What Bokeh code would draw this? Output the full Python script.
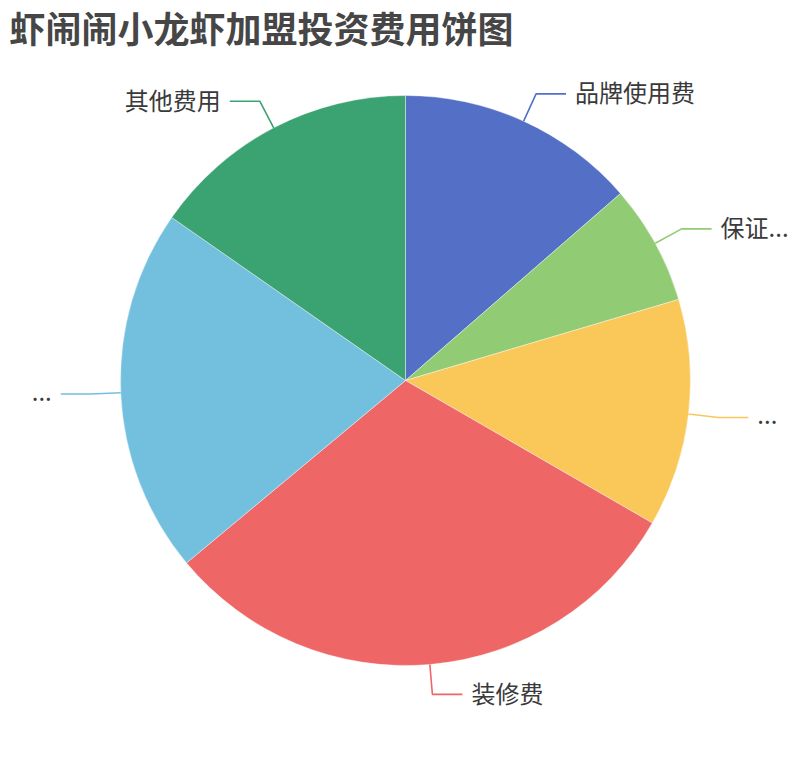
import math
from bokeh.plotting import figure
from bokeh.models import ColumnDataSource, Range1d, Label
from bokeh.core.properties import value
from bokeh.embed import file_html
from bokeh.resources import INLINE

# slices, clockwise from 12 o'clock (labels as shown, truncated ones included)
names = ["品牌使用费", "保证...", "...", "装修费", "...", "其他费用"]
amounts = [4.0, 2.0, 3.8, 9.0, 6.1, 4.5]
colors = ["#5470c6", "#91cc75", "#fac858", "#ee6666", "#73c0de", "#3ba272"]

title_text = "虾闹闹小龙虾加盟投资费用饼图"
font = "Noto Sans CJK SC"

R = 285      # pie radius in px
leg1 = 30    # radial part of the leader line
leg2 = 30    # horizontal part
gap = 9

total = sum(amounts)
starts, ends, mids = [], [], []
acc = 0.0
for a in amounts:
    s = acc / total * 2 * math.pi
    acc += a
    e = acc / total * 2 * math.pi
    # clockwise from top -> bokeh's anticlockwise angles
    starts.append(math.pi / 2 - e)
    ends.append(math.pi / 2 - s)
    mids.append(math.pi / 2 - (s + e) / 2)

src = ColumnDataSource(dict(name=names, amount=amounts, color=colors,
                            start=starts, end=ends))

# 1 data unit = 1 px, pie centre at the origin
p = figure(width=794, height=744, output_backend="svg", toolbar_location=None,
           x_range=Range1d(-405, 389), y_range=Range1d(-364, 380),
           min_border=0)
p.axis.visible = False
p.grid.visible = False
p.outline_line_color = None
p.background_fill_color = "white"
p.border_fill_color = "white"

p.wedge(x=0, y=0, radius=R, start_angle="start", end_angle="end",
        direction="anticlock", fill_color="color", line_color="white",
        line_width=0.4, source=src)

# leader lines + labels
xs, ys, lx, ly, align = [], [], [], [], []
for m in mids:
    c, s = math.cos(m), math.sin(m)
    x0, y0 = R * c, R * s
    x1, y1 = (R + leg1) * c, (R + leg1) * s
    d = 1 if c >= 0 else -1
    x2 = x1 + d * leg2
    xs.append([x0, x1, x2])
    ys.append([y0, y1, y1])
    lx.append(x2 + d * gap)
    ly.append(y1 + 2)
    align.append("left" if d > 0 else "right")

lab = ColumnDataSource(dict(xs=xs, ys=ys, color=colors, x=lx, y=ly,
                            text=names, align=align))
p.multi_line(xs="xs", ys="ys", line_color="color", line_width=1.6, source=lab)
p.text(x="x", y="y", text="text", text_align="align", text_baseline="middle",
       text_font=value(font), text_font_size="24px", text_color="#3a3a3a",
       source=lab)

p.add_layout(Label(x=9, y=718, x_units="screen", y_units="screen",
                   text=title_text, text_font=font, text_font_size="36px",
                   text_font_style="bold", text_color="#464646",
                   text_baseline="middle"))

open("out.html", "w").write(file_html(p, INLINE))
